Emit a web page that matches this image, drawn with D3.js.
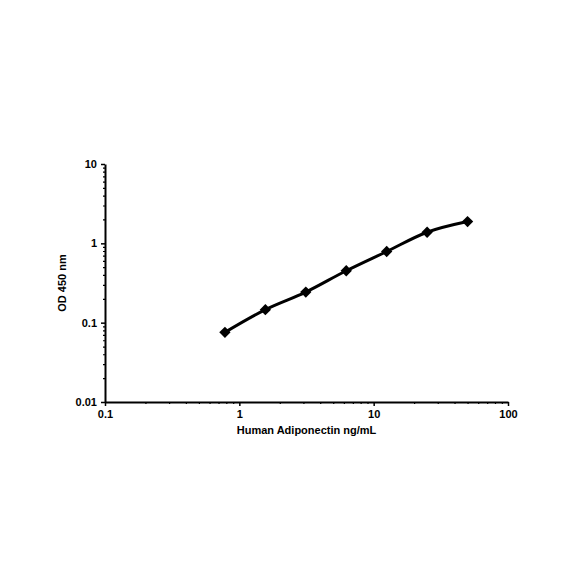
<!DOCTYPE html>
<html>
<head>
<meta charset="utf-8">
<script src="https://cdn.jsdelivr.net/npm/d3@7"></script>
<style>
  body { margin: 0; background: #fff; }
  .axis text { font-family: "Liberation Sans", Arial, sans-serif; font-size: 11px; font-weight: bold; fill: #000; }
  .axis path, .axis line { stroke: #000; }
</style>
</head>
<body>
<div class="root"></div>
<script>
// standard curve: concentration (ng/mL) vs OD 450
const conc = [0.78125, 1.5625, 3.125, 6.25, 12.5, 25, 50];
const od = [0.0755, 0.146, 0.243, 0.451, 0.789, 1.38, 1.88];
const xTicks = [0.1, 1, 10, 100];
const yTicks = [0.01, 0.1, 1, 10];

const w = 584;
const h = 584;
const padLeft = 105, padRight = 508, padTop = 164, padBottom = 402;

const svg = d3.select(".root")
              .append("svg")
              .attr("width", w)
              .attr("height", h);

const xScale = d3.scaleLog().domain([0.1, 100]).range([padLeft, padRight]);
const yScale = d3.scaleLog().domain([0.01, 10]).range([padBottom, padTop]);

// minor ticks (2..9 in each decade)
const minorX = [];
xTicks.slice(0, -1).forEach(d => { for (let k = 2; k < 10; k++) minorX.push(d * k); });
const minorY = [];
yTicks.slice(0, -1).forEach(d => { for (let k = 2; k < 10; k++) minorY.push(d * k); });

svg.append("g")
   .attr("class", "axis")
   .attr("transform", "translate(0," + padBottom + ")")
   .call(d3.axisBottom(xScale).tickValues(minorX).tickSize(2).tickFormat(""))
   .call(g => g.select(".domain").remove())
   .selectAll("line").attr("stroke-width", 1.2);

svg.append("g")
   .attr("class", "axis")
   .attr("transform", "translate(" + padLeft + ",0)")
   .call(d3.axisLeft(yScale).tickValues(minorY).tickSize(2).tickFormat(""))
   .call(g => g.select(".domain").remove())
   .selectAll("line").attr("stroke-width", 1.2);

const xAxis = svg.append("g")
   .attr("class", "axis")
   .attr("transform", "translate(0," + padBottom + ")")
   .call(d3.axisBottom(xScale).tickValues(xTicks).tickSize(4).tickSizeOuter(0).tickPadding(4).tickFormat(d3.format("")));
xAxis.select(".domain").attr("stroke-width", 2);
xAxis.selectAll("line").attr("stroke-width", 1.5);

const yAxis = svg.append("g")
   .attr("class", "axis")
   .attr("transform", "translate(" + padLeft + ",0)")
   .call(d3.axisLeft(yScale).tickValues(yTicks).tickSize(4).tickSizeOuter(0).tickPadding(4).tickFormat(d3.format("")));
yAxis.select(".domain").attr("stroke-width", 2);
yAxis.selectAll("line").attr("stroke-width", 1.5);

const data = conc.map((c, i) => [c, od[i]]);

const line = d3.line()
   .x(d => xScale(d[0]))
   .y(d => yScale(d[1]))
   .curve(d3.curveCatmullRom.alpha(0.5));

svg.append("path")
   .datum(data)
   .attr("d", line)
   .attr("fill", "none")
   .attr("stroke", "#000")
   .attr("stroke-width", 3);

svg.selectAll(".pt")
   .data(data)
   .enter()
   .append("rect")
   .attr("class", "pt")
   .attr("x", -4)
   .attr("y", -4)
   .attr("width", 8)
   .attr("height", 8)
   .attr("transform", d => "translate(" + xScale(d[0]) + "," + yScale(d[1]) + ")rotate(45)")
   .attr("fill", "#000");

svg.append("text")
   .attr("x", (padLeft + padRight) / 2)
   .attr("y", 434)
   .attr("text-anchor", "middle")
   .style("font-family", "'Liberation Sans', Arial, sans-serif")
   .style("font-size", "11px")
   .style("font-weight", "bold")
   .text("Human Adiponectin ng/mL");

svg.append("text")
   .attr("text-anchor", "middle")
   .attr("transform", "translate(66," + ((padTop + padBottom) / 2) + ")rotate(-90)")
   .style("font-family", "'Liberation Sans', Arial, sans-serif")
   .style("font-size", "11px")
   .style("font-weight", "bold")
   .text("OD 450 nm");
</script>
</body>
</html>
